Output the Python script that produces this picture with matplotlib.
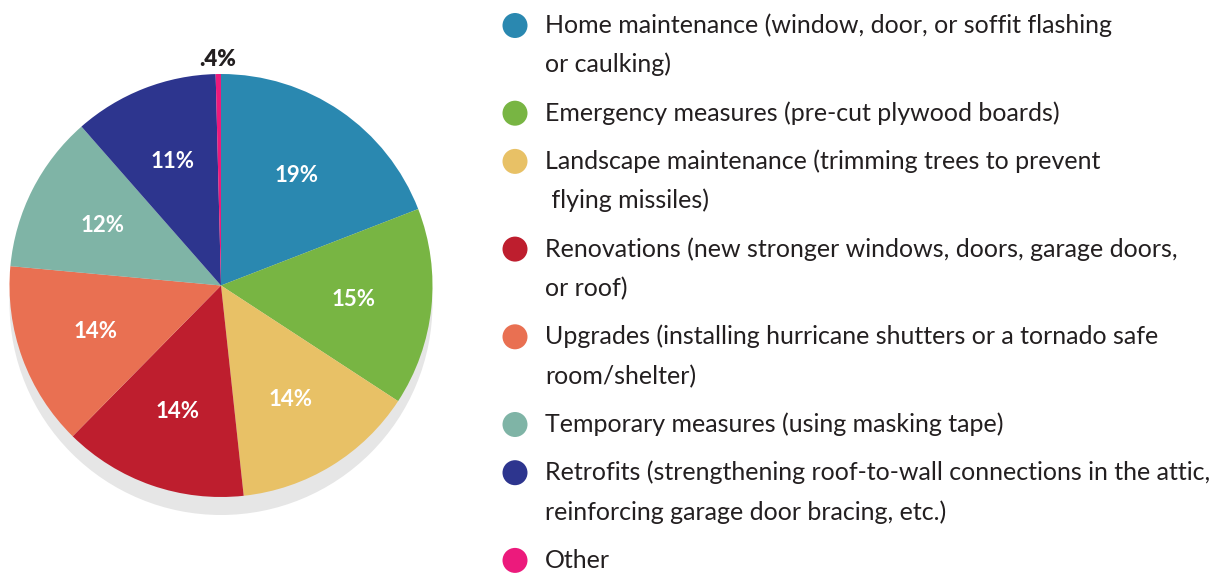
import numpy as np
import matplotlib
matplotlib.use("Agg")
from matplotlib import pyplot as plt
from matplotlib.patches import Circle

# share of respondents per mitigation type
values = [19, 15, 14, 14, 14, 12, 11, 0.4]
pct_labels = ["19%", "15%", "14%", "14%", "14%", "12%", "11%", ".4%"]
colors = ["#2a88b0", "#78b543", "#e8c166", "#be1e2e", "#e97052",
          "#7fb4a6", "#2d358e", "#ec1a7c"]
legend_lines = [
    ["Home maintenance (window, door, or soffit flashing", "or caulking)"],
    ["Emergency measures (pre-cut plywood boards)"],
    ["Landscape maintenance (trimming trees to prevent", " flying missiles)"],
    ["Renovations (new stronger windows, doors, garage doors,", "or roof)"],
    ["Upgrades (installing hurricane shutters or a tornado safe", "room/shelter)"],
    ["Temporary measures (using masking tape)"],
    ["Retrofits (strengthening roof-to-wall connections in the attic,", "reinforcing garage door bracing, etc.)"],
    ["Other"],
]

W, H = 1219, 574
plt.rcParams['font.family'] = ['Lato', 'DejaVu Sans']
text_color = "#231f20"

fig = plt.figure(figsize=(W / 100, H / 100), dpi=100)
ax = fig.add_axes([0, 0, 1, 1])

cx, cy, r = 221, H - 285.5, 211.5

# drop shadow under the pie
ax.add_patch(Circle((cx, cy - 18), r, color="#e6e6e6", zorder=0, lw=0))

wedges, _ = ax.pie(values, colors=colors, startangle=90, counterclock=False,
                   center=(cx, cy), radius=r, wedgeprops=dict(linewidth=0))
for w in wedges:
    w.set_zorder(1)

for w, lab in zip(wedges, pct_labels):
    mid = np.deg2rad((w.theta1 + w.theta2) / 2)
    if lab == ".4%":
        d = r * 1.07
        ax.text(cx + d * np.cos(mid), cy + d * np.sin(mid), lab, ha="center",
                va="center", fontsize=16, fontweight="heavy", color=text_color, zorder=3)
    else:
        d = r * 0.63
        ax.text(cx + d * np.cos(mid), cy + d * np.sin(mid), lab, ha="center",
                va="center", fontsize=16, fontweight="bold", color="white", zorder=3)

# legend on the right
mx, tx = 515, 545
y = 25.5
for col, lines in zip(colors, legend_lines):
    ax.add_patch(Circle((mx, H - y), 12.5, color=col, lw=0))
    for k, line in enumerate(lines):
        ax.text(tx, H - (y + 7.5 + k * 39.5), line, ha="left", va="baseline",
                fontsize=18, color=text_color)
    y += 48.2 + 39.5 * (len(lines) - 1)

ax.set_xlim(0, W)
ax.set_ylim(0, H)
ax.set_aspect("equal")
ax.axis("off")

fig.savefig("out.png", dpi=100)
